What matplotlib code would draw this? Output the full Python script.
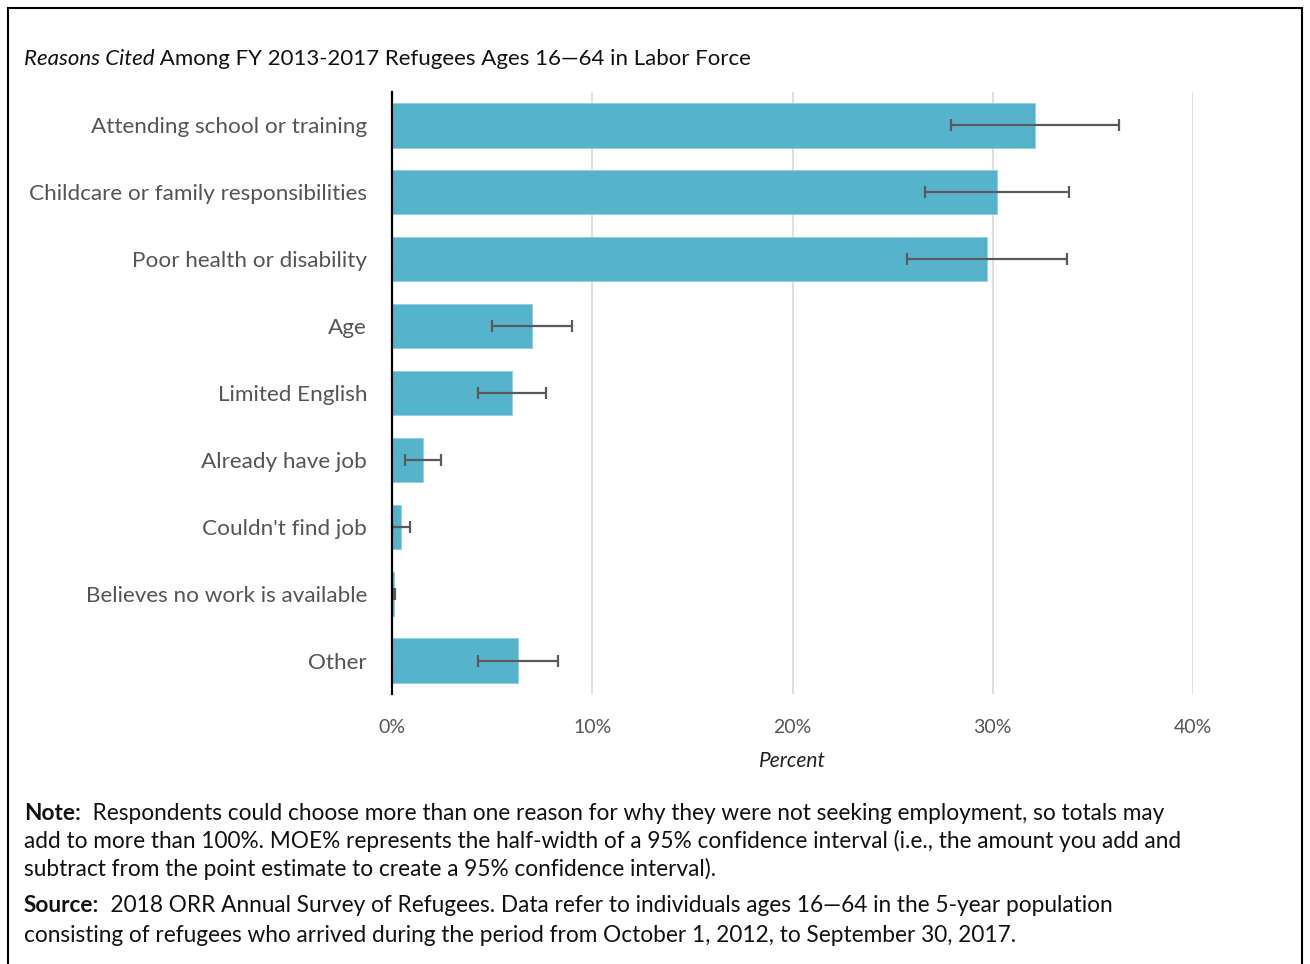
import matplotlib
matplotlib.use("Agg")
import matplotlib.pyplot as plt
from matplotlib.patches import Rectangle

plt.rcParams['font.family'] = ['Lato', 'DejaVu Sans']

reasons = ["Attending school or training", "Childcare or family responsibilities",
           "Poor health or disability", "Age", "Limited English", "Already have job",
           "Couldn't find job", "Believes no work is available", "Other"]
percent = [32.1, 30.2, 29.7, 7.0, 6.0, 1.55, 0.45, 0.1, 6.3]
moe = [4.2, 3.6, 4.0, 2.0, 1.7, 0.9, 0.47, 0.05, 2.0]
ticks = [0, 10, 20, 30, 40]
tick_labels = ["0%", "10%", "20%", "30%", "40%"]

W, H = 1310, 964
fig = plt.figure(figsize=(W / 100, H / 100), dpi=100)

# frame around the figure
fig.patches.append(Rectangle((8 / W, -0.01), (1302 - 8) / W, 1 - 8 / H + 0.01,
                             transform=fig.transFigure, fill=False,
                             edgecolor="black", lw=1.5))

ax = fig.add_axes([392 / W, 1 - 694 / H, (1193 - 392) / W, (694 - 92) / H])
y = range(len(reasons))
ax.barh(y, percent, height=0.66, color="#56B3CC", edgecolor="#8fd0e0", lw=0.6, zorder=2)
ax.errorbar(percent, y, xerr=moe, fmt="none", ecolor="#5a5a5a", elinewidth=1.6,
            capsize=4, capthick=1.6, zorder=3)

ax.set_xlim(0, 40)
ax.set_ylim(len(reasons) - 0.5, -0.5)
ax.set_yticks(list(y))
ax.set_yticklabels(reasons, fontsize=16.2, color="#555555")
ax.set_xticks(ticks)
ax.set_xticklabels(tick_labels, fontsize=14, color="#555555")
ax.tick_params(length=0)
ax.xaxis.grid(True, color="#d9d9d9", lw=1.2, zorder=0)
ax.set_axisbelow(True)
for s in ["top", "right", "bottom"]:
    ax.spines[s].set_visible(False)
ax.spines["left"].set_color("black")
ax.spines["left"].set_linewidth(1.6)
ax.spines["left"].set_zorder(4)
ax.tick_params(axis="y", pad=18)
ax.tick_params(axis="x", pad=18)
ax.set_xlabel("Percent", fontsize=15, style="italic", color="#222222", labelpad=11)

fig.canvas.draw()
r = fig.canvas.get_renderer()


def mixed(x_px, y_px, first, rest, size, first_kw):
    t = fig.text(x_px / W, 1 - y_px / H, first, fontsize=size, va="center", **first_kw)
    bb = t.get_window_extent(renderer=r)
    fig.text(bb.x1 / W, 1 - y_px / H, rest, fontsize=size, va="center", color="#111111")


mixed(24, 59, "Reasons Cited", " Among FY 2013-2017 Refugees Ages 16\u201464 in Labor Force",
      16, dict(style="italic", color="#111111"))
fs = 16.3
mixed(24, 813, "Note:", "  Respondents could choose more than one reason for why they were not seeking employment, so totals may",
      fs, dict(weight="bold", color="#111111"))
fig.text(24 / W, 1 - 841 / H, "add to more than 100%. MOE% represents the half-width of a 95% confidence interval (i.e., the amount you add and",
         fontsize=fs, va="center", color="#111111")
fig.text(24 / W, 1 - 869 / H, "subtract from the point estimate to create a 95% confidence interval).",
         fontsize=fs, va="center", color="#111111")
mixed(24, 905, "Source:", "  2018 ORR Annual Survey of Refugees. Data refer to individuals ages 16\u201464 in the 5-year population",
      fs, dict(weight="bold", color="#111111"))
fig.text(24 / W, 1 - 935 / H, "consisting of refugees who arrived during the period from October 1, 2012, to September 30, 2017.",
         fontsize=fs, va="center", color="#111111")

fig.savefig("out.png", dpi=100)
